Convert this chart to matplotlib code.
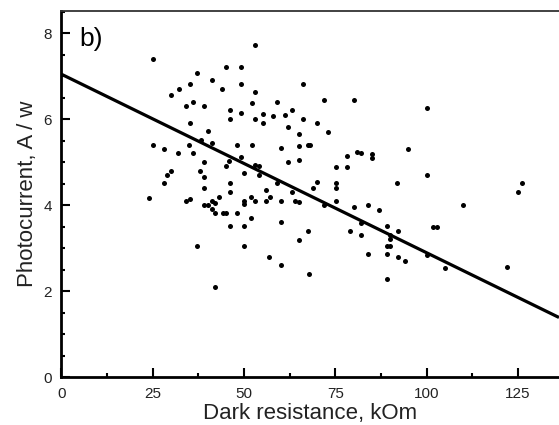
import matplotlib
matplotlib.use('Agg')
import matplotlib.pyplot as plt
from matplotlib.ticker import MultipleLocator

plt.rcParams['font.family'] = ['Liberation Sans', 'DejaVu Sans']

# dark resistance (kOm) and photocurrent (A/W)
dark_res = [25.2, 37.0, 30.0, 32.1, 35.1, 36.1, 34.1, 35.1, 25.2, 28.0,
            32.0, 34.9, 36.0, 38.0, 30.0, 29.0, 28.0, 24.1, 34.0, 35.1,
            37.0, 53.0, 45.1, 49.1, 41.2, 49.1, 66.1, 44.1, 53.0, 52.1,
            59.0, 39.0, 46.1, 49.1, 55.1, 58.0, 61.2, 63.2, 46.1, 53.0,
            55.1, 66.1, 62.1, 40.1, 65.1, 38.1, 41.2, 48.2, 52.1, 60.1,
            65.1, 67.6, 49.1, 46.0, 39.0, 62.1, 65.1, 45.0, 53.1, 54.1,
            50.1, 54.1, 39.0, 59.1, 46.1, 39.0, 46.1, 56.0, 63.1, 43.2,
            52.0, 50.0, 53.0, 56.0, 57.1, 60.1, 64.0, 65.1, 39.0, 40.1,
            41.2, 42.1, 50.0, 41.2, 42.1, 44.2, 45.1, 48.2, 52.0, 46.1,
            50.1, 60.1, 67.6, 65.1, 50.1, 56.9, 60.1, 67.8, 42.1, 72.0,
            80.1, 100.1, 70.1, 73.1, 68.1, 81.0, 82.1, 85.1, 85.1, 78.1,
            95.0, 75.1, 78.1, 100.1, 70.1, 69.0, 75.1, 75.1, 92.0, 75.1,
            72.0, 80.1, 84.1, 87.1, 82.1, 89.1, 79.0, 92.1, 82.1, 90.0,
            90.0, 89.1, 90.0, 84.1, 89.1, 92.1, 94.1, 100.1, 89.1, 126.1,
            125.0, 110.0, 101.9, 103.0, 105.1, 122.0]
photocurrent = [7.41, 7.07, 6.57, 6.71, 6.83, 6.40, 6.31, 5.91, 5.41, 5.31,
                5.21, 5.41, 5.21, 4.81, 4.81, 4.71, 4.53, 4.17, 4.10, 4.15,
                3.05, 7.72, 7.21, 7.21, 6.91, 6.82, 6.82, 6.71, 6.63, 6.37,
                6.41, 6.31, 6.21, 6.16, 6.13, 6.08, 6.11, 6.21, 6.01, 6.01,
                5.91, 6.01, 5.83, 5.72, 5.66, 5.52, 5.44, 5.41, 5.41, 5.33,
                5.37, 5.41, 5.12, 5.03, 5.00, 5.00, 5.06, 4.91, 4.93, 4.91,
                4.76, 4.71, 4.66, 4.51, 4.51, 4.41, 4.31, 4.35, 4.31, 4.20,
                4.19, 4.11, 4.11, 4.10, 4.20, 4.10, 4.11, 4.07, 4.02, 4.02,
                4.11, 4.05, 4.03, 3.91, 3.82, 3.82, 3.82, 3.82, 3.71, 3.51,
                3.51, 3.61, 3.41, 3.20, 3.05, 2.81, 2.62, 2.40, 2.10, 6.44,
                6.44, 6.26, 5.91, 5.71, 5.41, 5.24, 5.22, 5.20, 5.11, 5.16,
                5.31, 4.90, 4.90, 4.71, 4.55, 4.41, 4.51, 4.41, 4.51, 4.10,
                4.01, 3.96, 4.00, 3.90, 3.60, 3.51, 3.41, 3.41, 3.31, 3.31,
                3.21, 3.05, 3.05, 2.86, 2.86, 2.81, 2.70, 2.85, 2.29, 4.51,
                4.31, 4.02, 3.50, 3.50, 2.55, 2.56]

# linear fit
fit_intercept = 7.05
fit_slope = -0.0415
x_max = 136.3

fig = plt.figure(figsize=(5.59, 4.25), dpi=100)
ax = fig.add_axes([0.110, 0.112, 0.89, 0.862])

ax.plot(dark_res, photocurrent, 'o', color='black', ms=3.6, mec='none')
fit_x = [0, x_max]
fit_y = [fit_intercept + fit_slope * v for v in fit_x]
ax.plot(fit_x, fit_y, '-', color='black', lw=2.3, solid_capstyle='butt')

ax.set_xlim(0, x_max)
ax.set_ylim(0, 8.52)
ax.xaxis.set_major_locator(MultipleLocator(25))
ax.xaxis.set_minor_locator(MultipleLocator(12.5))
ax.yaxis.set_major_locator(MultipleLocator(2))
ax.yaxis.set_minor_locator(MultipleLocator(0.5))
ax.tick_params(which='both', direction='in', top=False, right=False,
               labelsize=11, color='black', labelcolor='#222222')
ax.tick_params(axis='x', pad=7)
ax.tick_params(axis='y', pad=7)
ax.tick_params(which='major', length=6.5, width=1.5)
ax.tick_params(which='minor', length=3, width=1.5)

ax.spines['right'].set_visible(False)
ax.spines['left'].set_linewidth(2.0)
ax.spines['bottom'].set_linewidth(2.0)
ax.spines['top'].set_linewidth(1.3)
ax.spines['top'].set_color('#333333')

ax.set_xlabel('Dark resistance, kOm', fontsize=16, labelpad=1.5, color='#222222')
ax.set_ylabel('Photocurrent, A / w', fontsize=16, labelpad=4, color='#222222')
ax.text(4.8, 7.87, 'b)', fontsize=19, ha='left', va='center')

fig.savefig('out.png', dpi=100, facecolor='white')
